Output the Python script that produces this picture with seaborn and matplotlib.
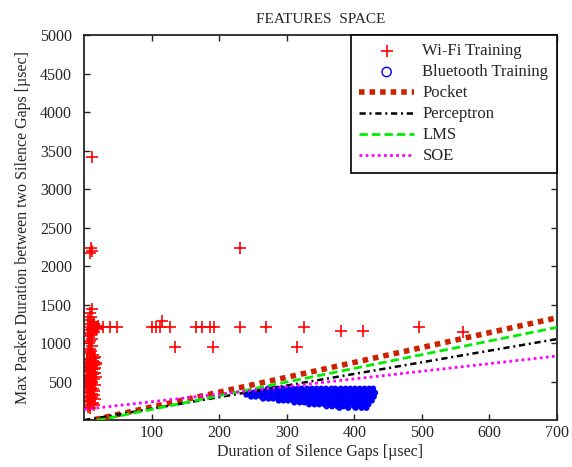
import numpy as np
import pandas as pd
import matplotlib
matplotlib.use('Agg')
import matplotlib.pyplot as plt
import seaborn as sns

# Wi-Fi training points (silence gap duration, max packet duration)
wifi_x = [12, 10, 11, 9, 12, 8, 10, 6, 13, 9, 15, 7, 18, 11, 5, 14, 8, 10, 6, 12,
          9, 7, 11, 8, 10, 6, 13, 16, 4, 9, 14, 7, 17, 11, 5, 15, 8, 12, 16, 6,
          10, 9, 7, 11, 8, 6, 10, 9, 7, 11, 8, 6, 10, 9, 7, 11, 8, 6, 9,
          15, 4, 13, 17, 5, 14, 3, 16, 12, 4, 15, 13, 5, 17, 14, 3, 12, 16, 5, 13,
          15, 4, 14, 12, 16, 5, 13, 15, 20, 17, 19, 14,
          28, 38, 49, 100, 106, 115, 112, 127, 134, 165, 175, 186, 192, 190,
          231, 230, 269, 315, 326, 380, 413, 496, 561]
wifi_y = [3420, 2230, 2200, 2175, 1450, 1390, 1340, 1300, 1280, 1255, 1235, 1215, 1205, 1190, 1170, 1150, 1130, 1110, 1090, 1060,
          1030, 1000, 965, 930, 900, 870, 845, 820, 800, 780, 760, 745, 725, 705, 690, 670, 650, 630, 610, 590,
          570, 545, 520, 495, 470, 445, 420, 395, 370, 345, 320, 300, 280, 255, 235, 215, 195, 175, 160,
          815, 795, 770, 750, 735, 715, 695, 680, 660, 640, 620, 600, 580, 560, 535, 510, 485, 455, 430, 405,
          380, 355, 330, 305, 270, 245, 225, 200, 1225, 1200, 1180, 1245,
          1210, 1210, 1210, 1210, 1210, 1290, 1215, 1210, 955, 1210, 1210, 1215, 1210, 955,
          2235, 1210, 1210, 955, 1210, 1155, 1155, 1210, 1150]

# Bluetooth training points, one list of gap durations per packet-duration level
bt_levels = [412, 385, 358, 332, 306, 280, 255, 230, 205, 180, 160]
bt_gaps = [
    [272, 280, 287, 294, 301, 309, 316, 322, 330, 337, 344, 351, 358, 366, 372, 380, 387, 394, 401, 408, 415, 422, 428],
    [256, 263, 270, 277, 284, 291, 299, 306, 313, 320, 327, 335, 342, 349, 356, 363, 371, 378, 385, 392, 400, 407, 414, 421, 428],
    [243, 250, 257, 264, 272, 279, 286, 293, 301, 308, 315, 322, 330, 337, 344, 351, 359, 366, 373, 380, 388, 395, 402, 409, 417, 424, 431],
    [240, 247, 254, 261, 269, 276, 283, 290, 298, 305, 312, 319, 327, 334, 341, 348, 356, 363, 370, 377, 385, 392, 399, 406, 414, 421, 429],
    [247, 254, 262, 269, 276, 284, 291, 298, 305, 313, 320, 327, 334, 342, 349, 356, 363, 371, 378, 385, 392, 400, 407, 414, 421, 429],
    [265, 273, 280, 287, 295, 302, 309, 317, 324, 331, 338, 346, 353, 360, 367, 375, 382, 389, 396, 404, 411, 418, 425],
    [288, 295, 302, 310, 317, 324, 331, 339, 346, 353, 360, 368, 375, 382, 389, 397, 404, 411, 418, 426],
    [311, 319, 326, 333, 341, 348, 355, 362, 370, 377, 384, 391, 399, 406, 413, 420],
    [333, 341, 348, 356, 363, 370, 377, 385, 392, 399, 406, 414, 421],
    [359, 367, 375, 384, 392, 400, 408, 416],
    [378, 391, 402, 411, 418],
]

# decision boundaries, evaluated at both ends of the x range
line_x = [0, 700]
pocket_y = [-20, 1330]
perceptron_y = [0, 1054]
lms_y = [-35, 1206]
soe_y = [142, 834]

wifi = pd.DataFrame({'gap': wifi_x, 'dur': wifi_y})
bt = pd.DataFrame([(g, lvl) for lvl, gaps in zip(bt_levels, bt_gaps) for g in gaps], columns=['gap', 'dur'])

sns.set_style('ticks')
plt.rcParams['font.family'] = ['Liberation Serif', 'DejaVu Serif']

fig, ax = plt.subplots(figsize=(5.72, 4.67), dpi=100)
fig.subplots_adjust(left=0.1474, right=0.9734, top=0.925, bottom=0.1)

sns.scatterplot(data=wifi, x='gap', y='dur', marker='+', color='red', s=80, linewidth=1.2,
                label='Wi-Fi Training', ax=ax, zorder=2)
sns.scatterplot(data=bt, x='gap', y='dur', marker='o', facecolor='none', edgecolor='blue', s=6,
                linewidth=1.8, label='Bluetooth Training', ax=ax, zorder=2)

sns.lineplot(x=line_x, y=pocket_y, color='#cc2200', lw=4, linestyle=(0, (1, 0.9)),
             label='Pocket', ax=ax, zorder=3)
sns.lineplot(x=line_x, y=perceptron_y, color='black', lw=1.8, linestyle=(0, (2.5, 1.5, 0.8, 1.5)),
             label='Perceptron', ax=ax, zorder=3)
sns.lineplot(x=line_x, y=lms_y, color='#00ee00', lw=2, linestyle=(0, (3, 1.5)),
             label='LMS', ax=ax, zorder=3)
sns.lineplot(x=line_x, y=soe_y, color='magenta', lw=2, linestyle=(0, (1, 1.2)),
             label='SOE', ax=ax, zorder=3)

ax.set_xlim(0, 700)
ax.set_ylim(0, 5000)
ax.set_xticks([100, 200, 300, 400, 500, 600, 700])
ax.set_yticks([500, 1000, 1500, 2000, 2500, 3000, 3500, 4000, 4500, 5000])
ax.tick_params(direction='in', top=True, right=True, length=4, width=1, labelsize=11.5)
ax.tick_params(axis='y', pad=9)
for sp in ax.spines.values():
    sp.set_visible(True)
    sp.set_linewidth(1.3)

ax.set_xlabel('Duration of Silence Gaps [µsec]', fontsize=11.5, labelpad=2)
ax.set_ylabel('Max Packet Duration between two Silence Gaps [µsec]', fontsize=11.5, labelpad=6)
ax.set_title('FEATURES  SPACE', fontsize=11, pad=9)

leg = ax.legend(loc='upper right', borderaxespad=0, fancybox=False, framealpha=1,
                edgecolor='black', fontsize=12, handlelength=3.3, handletextpad=0.5,
                labelspacing=0.3, borderpad=0.5)
leg.get_frame().set_linewidth(1.2)
leg.legend_handles[1].set_sizes([45])
leg.legend_handles[1].set_linewidth(1.0)

fig.savefig('out.png')
